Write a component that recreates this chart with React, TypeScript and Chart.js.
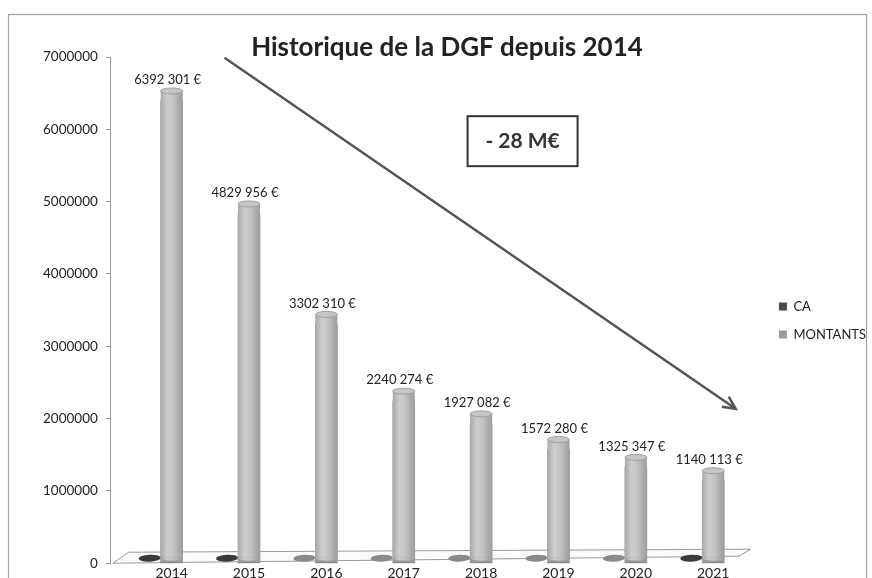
import React, { useEffect, useRef } from 'react';
import { Chart, registerables } from 'chart.js';
Chart.register(...registerables);

const categories = ['2014', '2015', '2016', '2017', '2018', '2019', '2020', '2021'];
const caValues = [0, 0, 0, 0, 0, 0, 0, 0];
const montantValues = [6392301, 4829956, 3302310, 2240274, 1927082, 1572280, 1325347, 1140113];
const caDiskShades = ['#3a3a3a', '#3a3a3a', '#8a8a8a', '#8a8a8a', '#8a8a8a', '#8a8a8a', '#8a8a8a', '#3a3a3a'];
const seriesNames = ['CA', 'MONTANTS'];
const yMax = 7000000;
const yStep = 1000000;
const xMin = -0.786;
const xMax = 7.655;
const floorEnd = 7.33;
const titleText = 'Historique de la DGF depuis 2014';
const noteText = '- 28 M€';
const arrowFrom = { index: 0.683, value: 6990000 };
const arrowTo = { index: 7.29, value: 2135000 };
const notePos = { index: 4.536, value: 5836000 };

const FONT = 'Lato, "Open Sans", sans-serif';

function fmtEuro(v: number): string {
  const th = Math.floor(v / 1000);
  const r = String(v % 1000).padStart(3, '0');
  return `${th} ${r} €`;
}

const decorPlugin = {
  id: 'decor',
  beforeDraw(chart: any) {
    const { ctx, chartArea, scales } = chart;
    ctx.save();
    ctx.fillStyle = '#ffffff';
    ctx.fillRect(0, 0, chart.width, chart.height);
    ctx.strokeStyle = '#a0a0a0';
    ctx.lineWidth = 1.2;
    ctx.strokeRect(8.5, 14.5, 858, chart.height);
    const l = chartArea.left + 2;
    const r = scales.x.getPixelForValue(floorEnd);
    const b = chartArea.bottom;
    ctx.beginPath();
    ctx.moveTo(l, b);
    ctx.lineTo(l + 16, b - 11);
    ctx.lineTo(r + 12, b - 14);
    ctx.lineTo(r, b - 7);
    ctx.closePath();
    ctx.fillStyle = '#fbfbfb';
    ctx.fill();
    ctx.strokeStyle = '#9a9a9a';
    ctx.lineWidth = 1;
    ctx.stroke();
    ctx.restore();
  },
  afterDatasetsDraw(chart: any) {
    const { ctx, scales } = chart;
    const xs = scales.x;
    const ys = scales.y;
    ctx.save();
    const caMeta = chart.getDatasetMeta(0);
    caMeta.data.forEach((el: any, i: number) => {
      ctx.beginPath();
      ctx.ellipse(el.x - 22, el.base - 5, 11, 3.5, -0.05, 0, Math.PI * 2);
      ctx.fillStyle = caDiskShades[i];
      ctx.fill();
    });
    const mMeta = chart.getDatasetMeta(1);
    mMeta.data.forEach((el: any, i: number) => {
      const w = el.width;
      const x0 = el.x - w / 2;
      const top = el.y - 10;
      const bottom = el.base - 5;
      const g = ctx.createLinearGradient(x0, 0, x0 + w, 0);
      g.addColorStop(0, '#a9a9a9');
      g.addColorStop(0.3, '#cdcdcd');
      g.addColorStop(0.55, '#c4c4c4');
      g.addColorStop(1, '#9c9c9c');
      ctx.fillStyle = g;
      ctx.fillRect(x0, top, w, bottom - top);
      ctx.beginPath();
      ctx.ellipse(el.x, bottom, w / 2, 3, 0, 0, Math.PI);
      ctx.fill();
      ctx.beginPath();
      ctx.ellipse(el.x, top, w / 2, 3, 0, 0, Math.PI * 2);
      ctx.fillStyle = '#c6c6c6';
      ctx.fill();
      ctx.strokeStyle = '#a0a0a0';
      ctx.lineWidth = 1;
      ctx.stroke();
      ctx.fillStyle = '#222';
      ctx.font = `13px ${FONT}`;
      ctx.textAlign = 'center';
      ctx.textBaseline = 'middle';
      ctx.fillText(fmtEuro(montantValues[i]), el.x - 4, top - 11);
    });
    const ax0 = xs.getPixelForValue(arrowFrom.index);
    const ay0 = ys.getPixelForValue(arrowFrom.value);
    const ax1 = xs.getPixelForValue(arrowTo.index);
    const ay1 = ys.getPixelForValue(arrowTo.value);
    ctx.strokeStyle = '#555';
    ctx.lineWidth = 2.5;
    ctx.beginPath();
    ctx.moveTo(ax0, ay0);
    ctx.lineTo(ax1, ay1);
    ctx.stroke();
    const ang = Math.atan2(ay1 - ay0, ax1 - ax0);
    const hl = 14;
    ctx.beginPath();
    ctx.moveTo(ax1 - hl * Math.cos(ang - 0.45), ay1 - hl * Math.sin(ang - 0.45));
    ctx.lineTo(ax1, ay1);
    ctx.lineTo(ax1 - hl * Math.cos(ang + 0.45), ay1 - hl * Math.sin(ang + 0.45));
    ctx.stroke();
    const nx = xs.getPixelForValue(notePos.index);
    const ny = ys.getPixelForValue(notePos.value);
    ctx.fillStyle = '#fff';
    ctx.fillRect(nx - 56, ny - 26, 112, 52);
    ctx.strokeStyle = '#333';
    ctx.lineWidth = 2;
    ctx.strokeRect(nx - 55, ny - 25, 110, 50);
    ctx.fillStyle = '#333';
    ctx.font = `bold 21px ${FONT}`;
    ctx.textAlign = 'center';
    ctx.textBaseline = 'middle';
    ctx.fillText(noteText, nx, ny);
    ctx.fillStyle = '#222';
    ctx.font = `bold 26px ${FONT}`;
    ctx.fillText(titleText, 447, 48);
    ctx.restore();
  },
};

export default function App() {
  const ref = useRef<HTMLCanvasElement | null>(null);
  useEffect(() => {
    if (!ref.current) return;
    const chart = new Chart(ref.current, {
      type: 'bar',
      data: {
        datasets: [
          {
            label: seriesNames[0],
            data: caValues.map((v, i) => ({ x: i, y: v })),
            backgroundColor: '#4a4a4a',
            borderWidth: 0,
          },
          {
            label: seriesNames[1],
            data: montantValues.map((v, i) => ({ x: i, y: v })),
            backgroundColor: '#9c9c9c',
            borderWidth: 0,
          },
        ],
      },
      options: {
        responsive: false,
        animation: false,
        grouped: false,
        barThickness: 22,
        layout: { padding: { left: 35, top: 57, right: -4, bottom: 16 } },
        plugins: {
          title: { display: false },
          tooltip: { enabled: false },
          legend: {
            position: 'right',
            labels: {
              boxWidth: 8,
              boxHeight: 8,
              padding: 15,
              color: '#222',
              font: { family: FONT, size: 13 },
            },
          },
        },
        scales: {
          x: {
            type: 'linear',
            min: xMin,
            max: xMax,
            offset: false,
            grid: { display: false, drawTicks: false },
            border: { display: false },
            ticks: {
              stepSize: 1,
              includeBounds: false,
              autoSkip: false,
              maxRotation: 0,
              color: '#222',
              font: { family: FONT, size: 14 },
              padding: 2,
              callback: (v: any) => (Number.isInteger(v) && categories[v] !== undefined ? categories[v] : ''),
            },
          },
          y: {
            min: 0,
            max: yMax,
            ticks: {
              stepSize: yStep,
              color: '#222',
              font: { family: FONT, size: 13.5 },
              padding: 8,
              callback: (v: any) => String(v),
            },
            grid: { drawOnChartArea: false, drawTicks: true, tickLength: 5, color: '#999' },
            border: { display: true, color: '#999' },
          },
        },
      },
      plugins: [decorPlugin],
    });
    return () => chart.destroy();
  }, []);
  return (
    <div style={{ position: 'fixed', left: 0, top: 0, width: 872, height: 600 }}>
      <canvas ref={ref} width={872} height={600} style={{ display: 'block' }} />
    </div>
  );
}
